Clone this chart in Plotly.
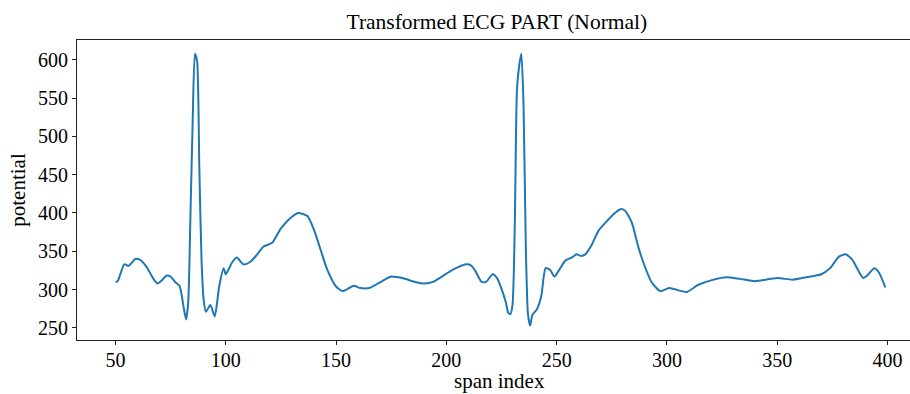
import plotly.graph_objects as go

# Data
span_index = [50, 51, 54, 56, 59, 61, 64, 67, 69, 71, 73, 75, 77, 79, 80, 81, 82, 83, 84, 85, 86, 87, 88, 89, 90, 91,
              93, 95, 97, 99, 100, 103, 105, 108, 111, 114, 117, 121, 125, 130, 133, 137, 140, 143, 146, 150,
              153, 158, 161, 165, 169, 175, 180, 186, 190, 194, 198, 203, 209, 211, 213, 216, 218, 221, 223,
              225, 227, 228, 229, 230, 231, 232, 233, 234, 235, 236, 237, 238, 239, 241, 243, 245, 247, 249,
              251, 254, 257, 259, 261, 263, 266, 269, 273, 276, 279, 281, 284, 287, 289, 293, 297, 301, 309,
              314, 320, 327, 333, 340, 350, 357, 365, 370, 374, 378, 381, 384, 389, 391, 394, 396, 399]
potential = [310, 311, 333, 331, 340, 339, 330, 315, 308, 312, 318, 317, 310, 305, 293, 275, 261, 285, 400, 520, 608, 598, 460, 340, 286, 271,
             280, 265, 304, 328, 320, 336, 342, 333, 336, 345, 356, 361, 380, 395, 400, 396, 378, 352, 326, 304,
             298, 305, 302, 302, 308, 317, 315, 310, 308, 310, 317, 326, 333, 332, 325, 310, 310, 320, 315,
             301, 283, 270, 268, 280, 380, 560, 592, 608, 540, 360, 268, 253, 267, 274, 291, 328, 326, 317,
             325, 338, 342, 346, 344, 346, 359, 377, 390, 399, 405, 403, 388, 356, 338, 310, 298, 302, 297,
             306, 312, 316, 314, 311, 315, 313, 317, 320, 328, 343, 346, 339, 315, 319, 328, 323, 303]

x_ticks = [50, 100, 150, 200, 250, 300, 350, 400]
y_ticks = [250, 300, 350, 400, 450, 500, 550, 600]

font_family = "Liberation Serif"

fig = go.Figure()
fig.add_trace(go.Scatter(
    x=span_index, y=potential, mode="lines",
    line=dict(color="#1f77b4", width=2, shape="spline", smoothing=0.6),
    showlegend=False, hoverinfo="skip",
))

axis_common = dict(
    showgrid=False, zeroline=False, showline=True, linecolor="#222222", linewidth=1,
    ticks="outside", ticklen=4, tickwidth=1, tickcolor="#222222",
    tickfont=dict(family=font_family, size=20, color="#000000"),
)

fig.update_layout(
    width=910, height=394,
    margin=dict(l=77, r=0, t=40, b=54),
    paper_bgcolor="white", plot_bgcolor="white",
    title=dict(text="Transformed ECG PART (Normal)", x=0.546, xref="container", xanchor="center",
               y=1 - 21 / 394, yref="container", yanchor="middle",
               font=dict(family=font_family, size=21.5, color="#000000")),
    xaxis=dict(range=[32.55, 410.2], tickvals=x_ticks, mirror=True, ticklabelstandoff=-2,
               **axis_common),
    yaxis=dict(range=[234.2, 625.8], tickvals=y_ticks,
               title=dict(text="potential", standoff=6, font=dict(family=font_family, size=21, color="#000000")),
               **axis_common),
    annotations=[dict(text="span index", xref="paper", yref="paper", x=(499 - 77) / 833, y=(340 - 381) / 300,
                      xanchor="center", yanchor="middle", showarrow=False,
                      font=dict(family=font_family, size=21, color="#000000"))],
)

fig.write_html("out.html", config={"displayModeBar": False},
               post_script="document.body.style.margin='0';document.body.style.overflow='hidden';")
